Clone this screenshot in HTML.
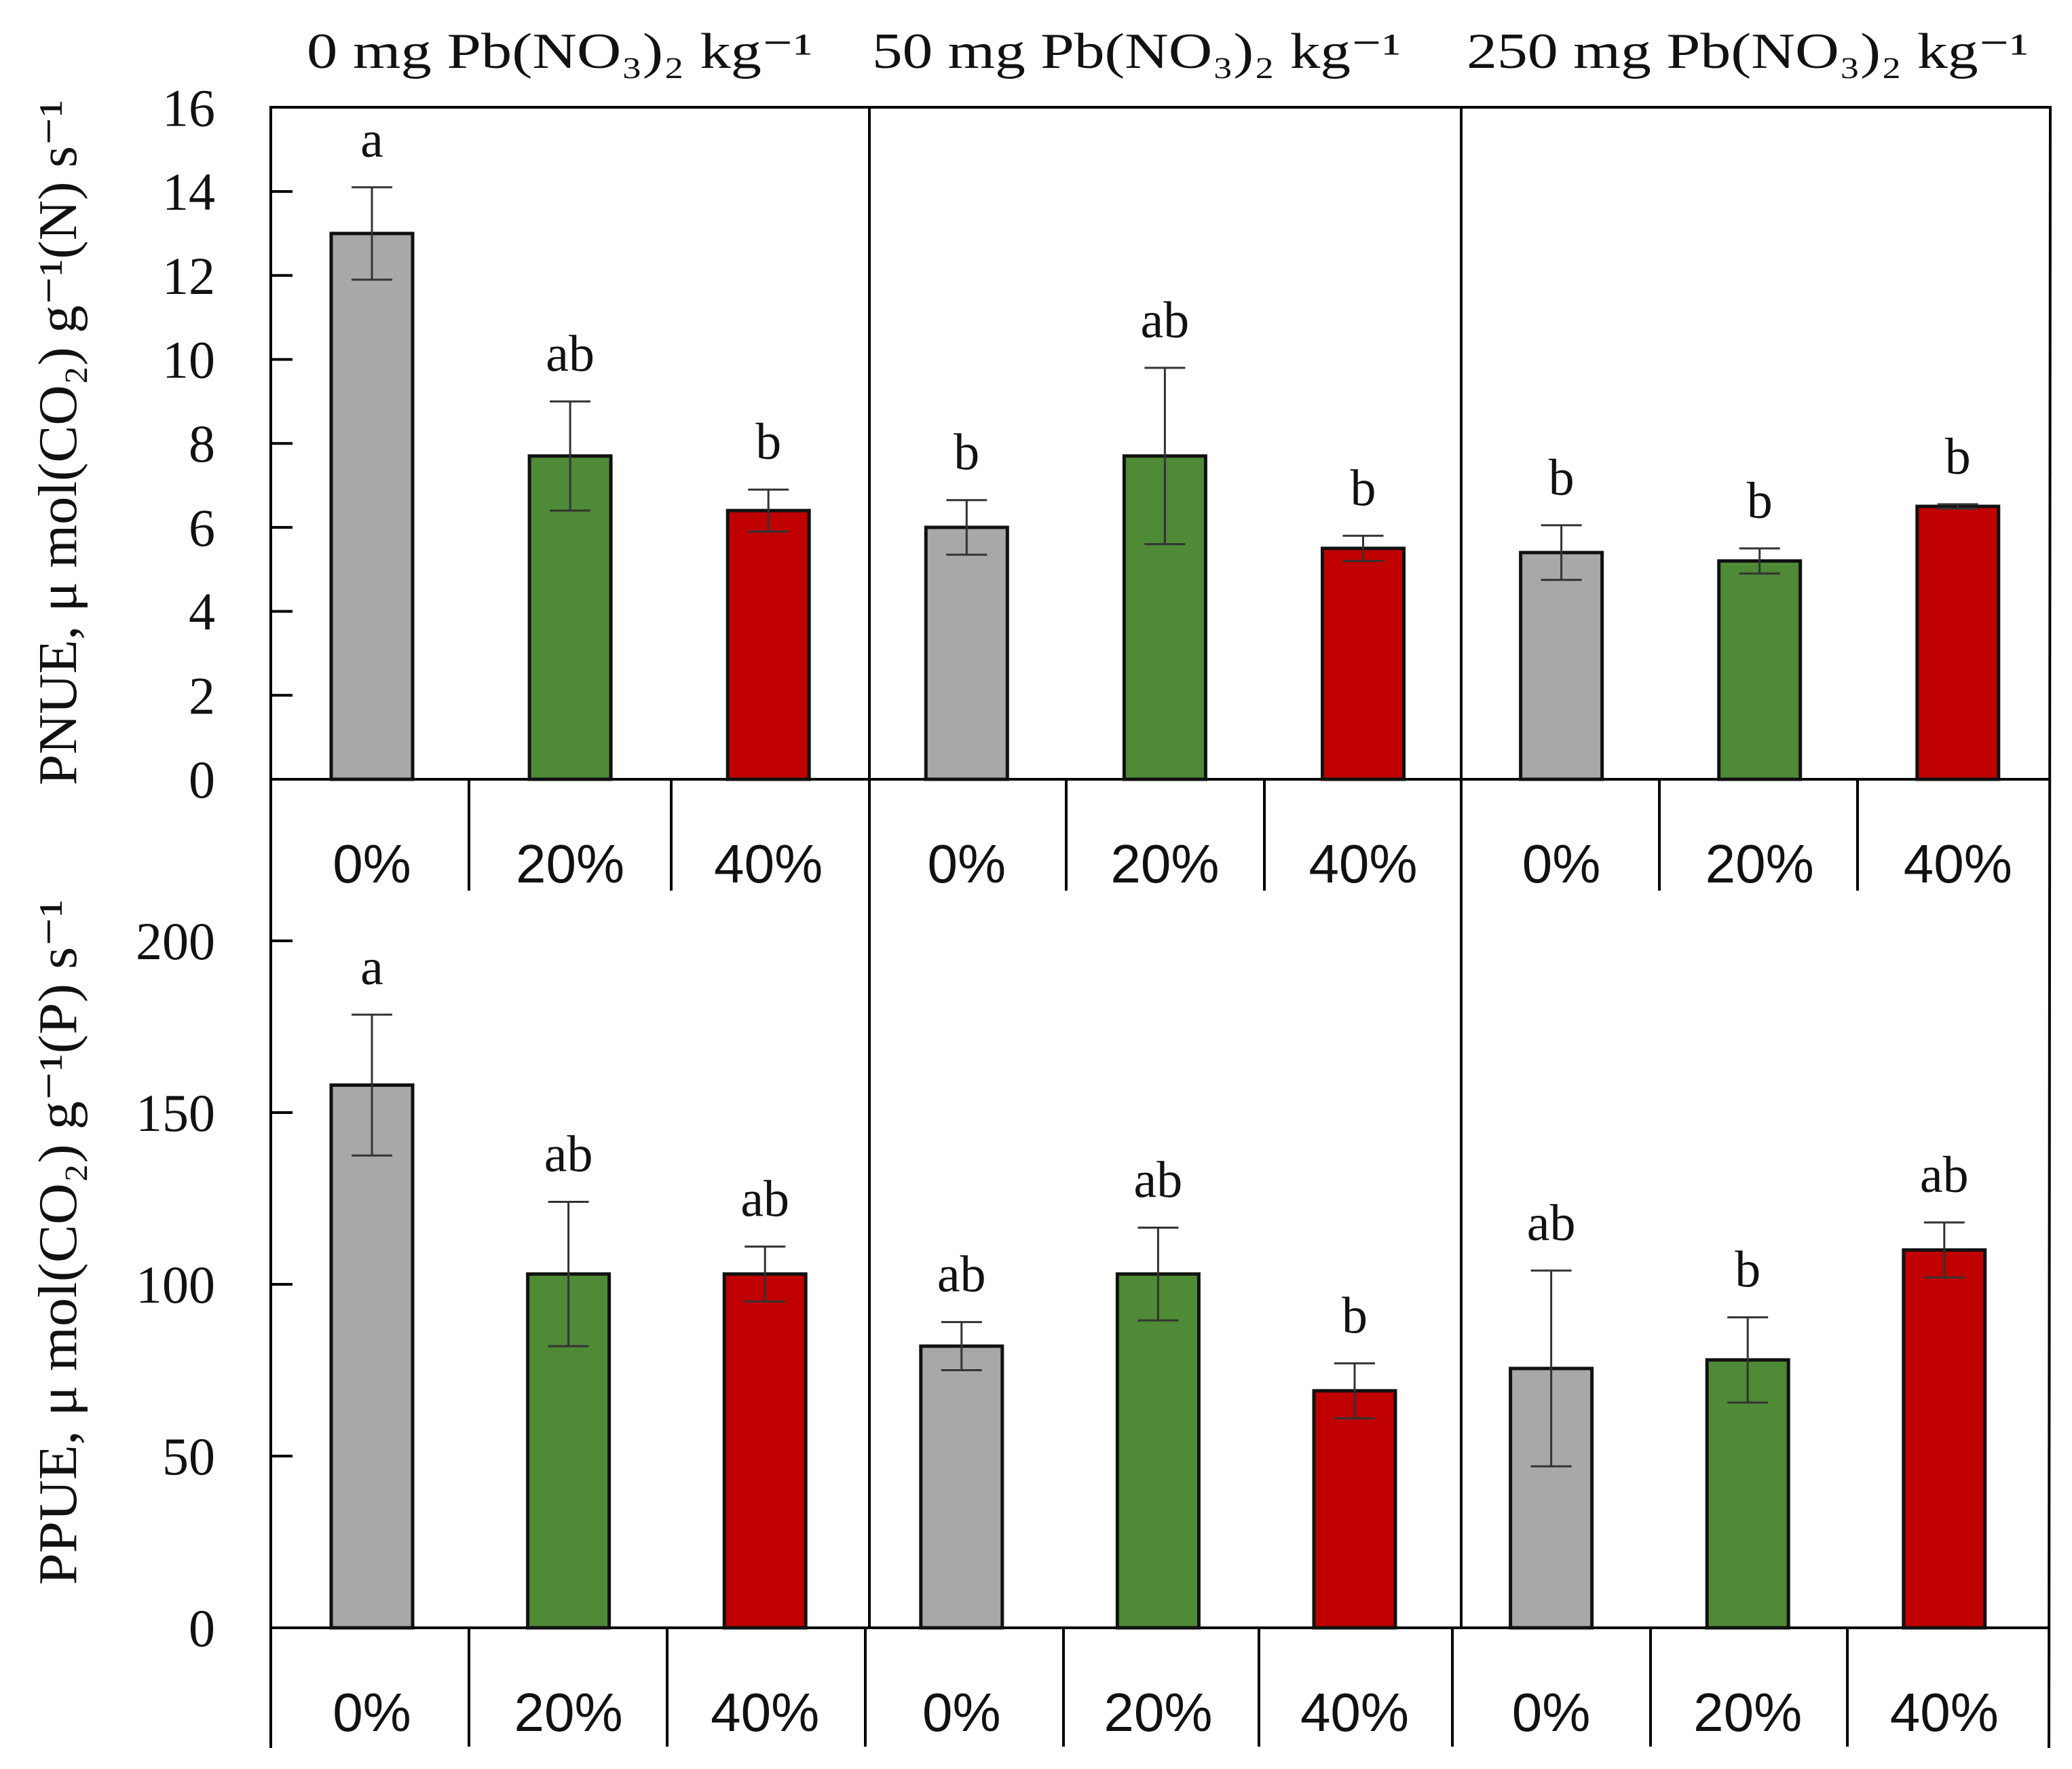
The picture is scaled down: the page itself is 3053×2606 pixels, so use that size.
<!DOCTYPE html>
<html><head><meta charset="utf-8"><style>
html,body{margin:0;padding:0;background:#fff;}
svg{display:block;}
</style></head><body>
<svg id="chart" width="3053" height="2606" viewBox="0 0 3053 2606" xmlns="http://www.w3.org/2000/svg">
<g id="g"></g>
</svg>
<script>
const groups = ["0 mg Pb(NO\u2083)\u2082 kg\u207B\u00B9","50 mg Pb(NO\u2083)\u2082 kg\u207B\u00B9","250 mg Pb(NO\u2083)\u2082 kg\u207B\u00B9"];
const categories = ["0%","20%","40%","0%","20%","40%","0%","20%","40%"];
const pnueValues = [13.0,7.7,6.4,6.0,7.7,5.5,5.4,5.2,6.5];
const pnueErrors = [1.1,1.3,0.5,0.65,2.1,0.3,0.65,0.3,0.05];
const pnueLetters = ["a","ab","b","b","ab","b","b","b","b"];
const ppueValues = [158,103,103,82,103,69,75.5,78,110];
const ppueErrors = [20.5,21,8,7,13.5,8,28.5,12.4,8];
const ppueLetters = ["a","ab","ab","ab","ab","b","ab","b","ab"];
const pnueTicks = [0,2,4,6,8,10,12,14,16];
const ppueTicks = [0,50,100,150,200];
const barColors = ["#a8a8a8","#4f8a36","#c00000"];

const NS="http://www.w3.org/2000/svg";
const g=document.getElementById('g');
function el(tag,attrs,parent){const e=document.createElementNS(NS,tag);for(const k in attrs)e.setAttribute(k,attrs[k]);(parent||g).appendChild(e);return e;}

const X0=399, XR=3021;
// top panel scale
const yTop=v=>1148-v*61.85;
const yBot=v=>2398-v*5.06;
const xTop=i=>548+i*292.1;
const xBot=i=>548+i*289.6;
const BW=120;
const serif='"Liberation Serif", serif';
const sans='"Liberation Sans", sans-serif';

// frame lines
let ln;
ln=el('line',{x1:X0,y1:158,x2:XR,y2:158,stroke:'#000','stroke-width':4});


ln=el('line',{x1:X0,y1:156,x2:X0,y2:2575,stroke:'#000','stroke-width':4});


ln=el('line',{x1:XR,y1:156,x2:3019,y2:2575,stroke:'#000','stroke-width':4});


[1281,2153].forEach((x,k)=>{
  const l=el('line',{x1:x,y1:156,x2:x,y2:2400,stroke:'#000','stroke-width':4});
  
  
});
[1275,2140].forEach(x=>{
  const l=el('line',{x1:x,y1:2400,x2:x,y2:2573,stroke:'#000','stroke-width':4});
  
  
});
ln=el('line',{x1:X0,y1:1148,x2:XR,y2:1148,stroke:'#000','stroke-width':4});


ln=el('line',{x1:X0,y1:2398,x2:3019,y2:2398,stroke:'#000','stroke-width':4});


[691,989,1571,1863,2445,2737].forEach(x=>{
  const l=el('line',{x1:x,y1:1150,x2:x,y2:1312,stroke:'#000','stroke-width':4});
  
  
});
[691,983,1567,1855,2432,2722].forEach(x=>{
  const l=el('line',{x1:x,y1:2400,x2:x,y2:2573,stroke:'#000','stroke-width':4});
  
  
});

// group headers
const hx=[[452,745],[1285,779],[2161,828]];
groups.forEach((t,i)=>{
  const e=el('text',{x:hx[i][0],y:100,'font-family':serif,'font-size':74,fill:'#111',textLength:hx[i][1],lengthAdjust:'spacingAndGlyphs'});
  e.textContent=t;
  
  
});

// ticks
pnueTicks.forEach(v=>{
  const y=yTop(v);
  if(v>0&&v<16){const t=el('line',{x1:X0,y1:y,x2:431,y2:y,stroke:'#000','stroke-width':4});
  
  }
  const e=el('text',{x:317,y:y+27,'text-anchor':'end','font-family':serif,'font-size':78,fill:'#111'});
  e.textContent=v;
  
  
});
ppueTicks.forEach(v=>{
  const y=yBot(v);
  if(v>0){const t=el('line',{x1:X0,y1:y,x2:431,y2:y,stroke:'#000','stroke-width':4});
  
  }
  const e=el('text',{x:317,y:y+27,'text-anchor':'end','font-family':serif,'font-size':78,fill:'#111'});
  e.textContent=v;
  
  
});

// axis titles
let at=el('text',{x:0,y:0,transform:'translate(112,652) rotate(-90)','text-anchor':'middle','font-family':serif,'font-size':80,fill:'#111',textLength:1010,lengthAdjust:'spacingAndGlyphs'});
at.textContent='PNUE,  \u03BC mol(CO\u2082) g\u207B\u00B9(N) s\u207B\u00B9';


at=el('text',{x:0,y:0,transform:'translate(112,1830) rotate(-90)','text-anchor':'middle','font-family':serif,'font-size':80,fill:'#111',textLength:1010,lengthAdjust:'spacingAndGlyphs'});
at.textContent='PPUE,  \u03BC mol(CO\u2082) g\u207B\u00B9(P) s\u207B\u00B9';



function drawPanel(vals,errs,letters,xf,yf,labY,prefix){
  vals.forEach((v,i)=>{
    const cx=xf(i), y=yf(v), y0=yf(0);
    const r=el('rect',{x:cx-BW/2,y:y,width:BW,height:y0-y,fill:barColors[i%3],stroke:'#111','stroke-width':5});
    
    
    const et=yf(v+errs[i]), eb=yf(v-errs[i]);
    const eg=el('path',{d:`M${cx},${et}V${eb}M${cx-30},${et}H${cx+30}M${cx-30},${eb}H${cx+30}`,stroke:'#333','stroke-width':3,fill:'none'});
    
    
    const lt=el('text',{x:cx,y:et-45,'text-anchor':'middle','font-family':serif,'font-size':76,fill:'#111'});
    lt.textContent=letters[i];
    
    
    const cl=el('text',{x:cx,y:labY,'text-anchor':'middle','font-family':sans,'font-size':80,fill:'#111'});
    cl.textContent=categories[i];
    
    
  });
}
drawPanel(pnueValues,pnueErrors,pnueLetters,xTop,yTop,1300,'pnue');
drawPanel(ppueValues,ppueErrors,ppueLetters,xBot,yBot,2550,'ppue');
</script>
</body></html>
